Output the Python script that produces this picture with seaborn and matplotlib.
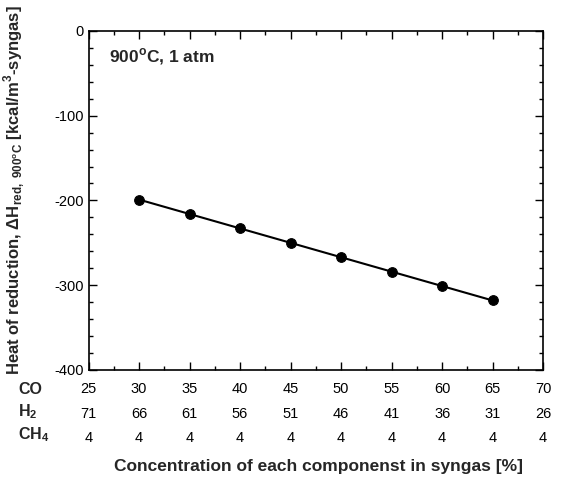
import numpy as np
import pandas as pd
import matplotlib
matplotlib.use("Agg")
import matplotlib.pyplot as plt
import seaborn as sns

# Data
co_ticks = [25, 30, 35, 40, 45, 50, 55, 60, 65, 70]
h2_ticks = [71, 66, 61, 56, 51, 46, 41, 36, 31, 26]
ch4_ticks = [4, 4, 4, 4, 4, 4, 4, 4, 4, 4]

co_pts = [30, 35, 40, 45, 50, 55, 60, 65]
heat_red = [-199, -216, -233, -250, -267, -284, -301, -318]

sns.set_style("ticks")
plt.rcParams["font.family"] = ["Liberation Sans", "DejaVu Sans"]
plt.rcParams["mathtext.fontset"] = "custom"
plt.rcParams["mathtext.rm"] = "Liberation Sans"
plt.rcParams["mathtext.bf"] = "Liberation Sans:bold"
plt.rcParams["axes.unicode_minus"] = False

df = pd.DataFrame({"co": co_pts, "dh": heat_red})

fig = plt.figure(figsize=(5.64, 4.83), dpi=100)
ax = fig.add_axes([0.157, 0.234, 0.806, 0.702])

sns.lineplot(data=df, x="co", y="dh", ax=ax, color="black", linewidth=1.5,
             marker="o", markersize=7, markeredgecolor="black")

ax.set_xlim(25, 70)
ax.set_ylim(-400, 0)
ax.set_xticks(co_ticks)
ax.set_xticklabels([f"{a}\n{b}\n{c}" for a, b, c in zip(co_ticks, h2_ticks, ch4_ticks)],
                   linespacing=1.95)
ax.set_xticks(np.arange(27.5, 70, 5), minor=True)
ax.set_yticks([0, -100, -200, -300, -400])
ax.set_yticks(np.arange(-380, 0, 20), minor=True)
ax.tick_params(which="both", direction="in", top=True, right=True, labelsize=10.5, colors="black")
ax.tick_params(which="major", length=6, width=1)
ax.tick_params(which="minor", length=3, width=1)
ax.tick_params(axis="x", pad=9)
for s in ax.spines.values():
    s.set_linewidth(1.2)
    s.set_color("black")

ax.set_xlabel("")
ax.set_ylabel(r"Heat of reduction, ΔH$_{\mathbf{red,\ 900^oC}}$ [kcal/m$^\mathbf{3}$-syngas]",
              fontsize=12, fontweight="bold")
ax.yaxis.set_label_coords(-0.135, 0.53)

# row names for the composite x-axis
fig.text(0.032, 1 - 389 / 483, "CO", fontsize=11.5, fontweight="bold", va="center")
fig.text(0.032, 1 - 412 / 483, r"H$_\mathbf{2}$", fontsize=11.5, fontweight="bold", va="center")
fig.text(0.032, 1 - 435 / 483, r"CH$_\mathbf{4}$", fontsize=11.5, fontweight="bold", va="center")

fig.text(0.565, 1 - 467 / 483, "Concentration of each componenst in syngas [%]",
         fontsize=12.5, fontweight="bold", ha="center", va="center")

ax.text(0.046, 0.923, r"900$^\mathbf{o}$C, 1 atm", transform=ax.transAxes,
        fontsize=12.5, fontweight="bold", va="center")

fig.savefig("out.png", dpi=100)
